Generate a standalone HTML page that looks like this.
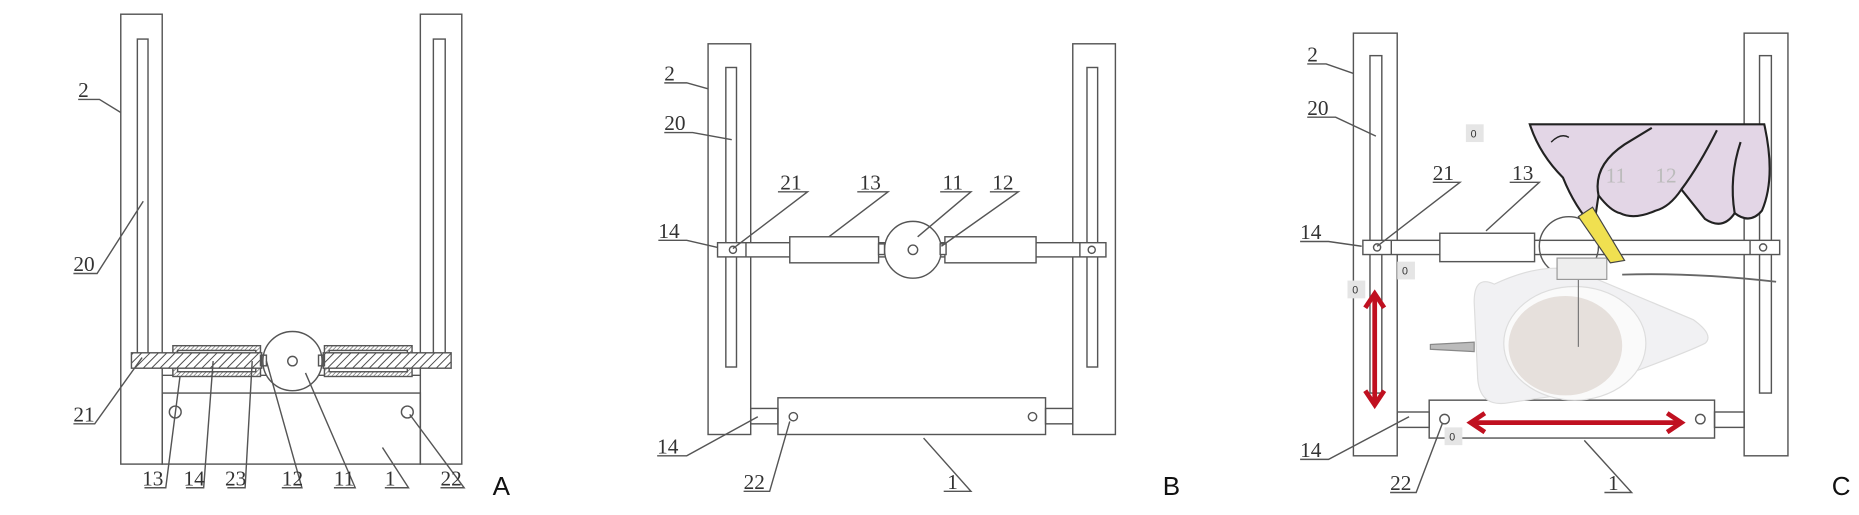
<!DOCTYPE html>
<html><head><meta charset="utf-8"><style>
html,body{margin:0;padding:0;background:#fff;}
svg{display:block}
text{font-family:"Liberation Serif",serif;font-size:18px;fill:#333}
.L{font-family:"Liberation Sans",sans-serif;font-size:22px;fill:#111}
.b{font-family:"Liberation Sans",sans-serif;font-size:9px;fill:#333}
</style></head><body>
<svg width="1859" height="515" viewBox="0 0 1570 435" preserveAspectRatio="none" xmlns="http://www.w3.org/2000/svg">
<defs>
<pattern id="h" width="5" height="5" patternUnits="userSpaceOnUse" patternTransform="rotate(45)"><rect width="5" height="5" fill="#fff"/><line x1="0" y1="0" x2="0" y2="5" stroke="#444" stroke-width="1.6"/></pattern>
<pattern id="h2" width="2.5" height="2.5" patternUnits="userSpaceOnUse" patternTransform="rotate(45)"><rect width="3" height="3" fill="#fff"/><line x1="0" y1="0" x2="0" y2="3" stroke="#555" stroke-width="1"/></pattern>
</defs>
<g fill="none" stroke="#555" stroke-width="1.2">
<!-- Panel A -->
<rect x="102" y="12" width="35" height="380"/><rect x="116" y="33" width="9" height="272"/>
<rect x="355" y="12" width="35" height="380"/><rect x="366" y="33" width="10" height="272"/>
<rect x="137" y="332" width="218" height="60"/>
<line x1="137" y1="317" x2="355" y2="317"/>
<circle cx="148" cy="348" r="5"/><circle cx="344" cy="348" r="5"/>
<rect x="146" y="292" width="74" height="26" fill="url(#h2)"/>
<rect x="274" y="292" width="74" height="26" fill="url(#h2)"/>
<rect x="150" y="296" width="66" height="18" fill="#fff"/>
<rect x="278" y="296" width="66" height="18" fill="#fff"/>
<rect x="111" y="298" width="110" height="13" fill="url(#h)"/>
<rect x="273" y="298" width="108" height="13" fill="url(#h)"/>
<circle cx="247" cy="305" r="25" fill="#fff"/><circle cx="247" cy="305" r="4"/>
<rect x="220" y="300" width="5" height="9"/><rect x="269" y="300" width="5" height="9"/>
<!-- leaders A -->
<polyline points="66,84 84,84 102,95"/><polyline points="62,231 82,231 121,170"/>
<polyline points="62,358 80,358 120,302"/>
<polyline points="122,412 140,412 152,318"/><polyline points="157,412 172,412 180,305"/>
<polyline points="192,412 207,412 213,305"/><polyline points="238,412 255,412 225,305"/>
<polyline points="282,412 300,412 258,315"/><polyline points="325,412 345,412 323,378"/>
<polyline points="372,412 392,412 346,350"/>
<!-- Panel B -->
<rect x="598" y="37" width="36" height="330"/><rect x="613" y="57" width="9" height="253"/>
<rect x="906" y="37" width="36" height="330"/><rect x="918" y="57" width="9" height="253"/>
<rect x="606" y="205" width="328" height="12" fill="#fff"/>
<line x1="630" y1="205" x2="630" y2="217"/><line x1="912" y1="205" x2="912" y2="217"/>
<circle cx="619" cy="211" r="3"/><circle cx="922" cy="211" r="3"/>
<rect x="667" y="200" width="75" height="22" fill="#fff"/><rect x="798" y="200" width="77" height="22" fill="#fff"/>
<circle cx="771" cy="211" r="24" fill="#fff"/><circle cx="771" cy="211" r="4"/>
<rect x="742" y="206" width="5" height="9" fill="#fff"/><rect x="794" y="206" width="5" height="9" fill="#fff"/>
<rect x="657" y="336" width="226" height="31" fill="#fff"/>
<rect x="634" y="345" width="23" height="13"/><rect x="883" y="345" width="23" height="13"/>
<circle cx="670" cy="352" r="3.5"/><circle cx="872" cy="352" r="3.5"/>
<polyline points="561,70 580,70 598,75"/><polyline points="561,112 585,112 618,118"/>
<polyline points="657,162 682,162 619,210"/><polyline points="724,162 750,162 700,200"/>
<polyline points="794,162 820,162 775,200"/><polyline points="836,162 860,162 795,208"/>
<polyline points="556,203 580,203 606,209"/><polyline points="555,385 580,385 640,352"/>
<polyline points="628,415 650,415 667,356"/><polyline points="797,415 820,415 780,370"/>
<!-- Panel C -->
<rect x="1143" y="28" width="37" height="357"/><rect x="1157" y="47" width="10" height="285"/>
<rect x="1473" y="28" width="37" height="357"/><rect x="1486" y="47" width="10" height="285"/>
<rect x="1151" y="203" width="352" height="12" fill="#fff"/>
<line x1="1175" y1="203" x2="1175" y2="215"/><line x1="1478" y1="203" x2="1478" y2="215"/>
<circle cx="1163" cy="209" r="3"/><circle cx="1489" cy="209" r="3"/>
<rect x="1216" y="197" width="80" height="24" fill="#fff"/>
<circle cx="1325" cy="208" r="25"/>
<rect x="1207" y="338" width="241" height="32" fill="#fff"/>
<rect x="1180" y="348" width="27" height="13"/><rect x="1448" y="348" width="25" height="13"/>
<circle cx="1220" cy="354" r="4"/><circle cx="1436" cy="354" r="4"/>
<polyline points="1104,54 1120,54 1143,62"/><polyline points="1104,99 1128,99 1162,115"/>
<polyline points="1210,154 1233,154 1163,208"/><polyline points="1275,154 1300,154 1255,195"/>
<polyline points="1098,204 1122,204 1150,208"/><polyline points="1098,388 1122,388 1190,352"/>
<polyline points="1174,416 1196,416 1218,358"/><polyline points="1355,416 1378,416 1338,372"/>
</g>
<!-- port -->
<path d="M1262,240 Q1245,232 1245,255 L1248,320 Q1250,345 1275,340 L1330,332 Q1420,300 1440,290 Q1448,283 1430,270 L1330,228 Q1300,222 1262,240 Z" fill="#f1f1f3" stroke="#ddd"/>
<ellipse cx="1330" cy="290" rx="60" ry="48" fill="#fafafa" stroke="#ddd"/>
<ellipse cx="1322" cy="292" rx="48" ry="42" fill="#e6e0dc"/>
<line x1="1333" y1="232" x2="1333" y2="293" stroke="#777"/>
<path d="M1208,291 L1245,289 L1245,297 L1208,295 Z" fill="#bbb" stroke="#888"/>
<rect x="1315" y="218" width="42" height="18" fill="#eee" stroke="#999"/>
<path d="M1370,232 Q1430,230 1500,238" fill="none" stroke="#666" stroke-width="1.5"/>
<!-- hand -->
<g stroke="#222" stroke-width="1.8" fill="#e3d6e6">
<path d="M1292,105 L1490,105 Q1500,150 1488,178 Q1478,190 1465,180 Q1455,195 1440,185 L1420,160 Q1410,175 1398,178 Q1380,186 1368,180 Q1360,178 1350,165 L1346,192 Q1330,175 1320,150 Q1300,130 1292,105 Z"/>
<path d="M1350,165 Q1345,140 1372,122 L1395,108" fill="none"/>
<path d="M1420,160 Q1435,140 1450,110" fill="none"/>
<path d="M1465,180 Q1460,150 1470,120" fill="none"/>
<path d="M1310,120 Q1318,112 1325,116" fill="none" stroke-width="1.2"/>
</g>
<path d="M1333,183 L1345,175 L1372,220 L1360,222 Z" fill="#f0e050" stroke="#444"/>
<text x="1356" y="154" style="fill:#bbb">11</text><text x="1398" y="154" style="fill:#bbb">12</text>
<!-- red arrows -->
<g stroke="#c01020" stroke-width="4" fill="none">
<line x1="1161" y1="250" x2="1161" y2="340"/><polyline points="1153,260 1161,248 1169,260"/><polyline points="1153,330 1161,342 1169,330"/>
<line x1="1242" y1="357" x2="1420" y2="357"/><polyline points="1254,349 1242,357 1254,365"/><polyline points="1408,349 1420,357 1408,365"/>
</g>
<g><rect x="1238" y="105" width="15" height="15" fill="#e5e5e5"/><text class="b" x="1242" y="116">0</text>
<rect x="1180" y="221" width="15" height="15" fill="#e5e5e5"/><text class="b" x="1184" y="232">0</text>
<rect x="1138" y="237" width="15" height="15" fill="#e5e5e5"/><text class="b" x="1142" y="248">0</text>
<rect x="1220" y="361" width="15" height="15" fill="#e5e5e5"/><text class="b" x="1224" y="372">0</text></g>
<!-- labels -->
<text x="66" y="82">2</text><text x="62" y="229">20</text><text x="62" y="356">21</text>
<text x="120" y="410">13</text><text x="155" y="410">14</text><text x="190" y="410">23</text>
<text x="238" y="410">12</text><text x="282" y="410">11</text><text x="325" y="410">1</text><text x="372" y="410">22</text>
<text class="L" x="416" y="418">A</text>
<text x="561" y="68">2</text><text x="561" y="110">20</text><text x="659" y="160">21</text><text x="726" y="160">13</text>
<text x="796" y="160">11</text><text x="838" y="160">12</text><text x="556" y="201">14</text><text x="555" y="383">14</text>
<text x="628" y="413">22</text><text x="800" y="413">1</text>
<text class="L" x="982" y="418">B</text>
<text x="1104" y="52">2</text><text x="1104" y="97">20</text><text x="1210" y="152">21</text><text x="1277" y="152">13</text>
<text x="1098" y="202">14</text><text x="1098" y="386">14</text><text x="1174" y="414">22</text><text x="1358" y="414">1</text>
<text class="L" x="1547" y="418">C</text>
</svg>
</body></html>
